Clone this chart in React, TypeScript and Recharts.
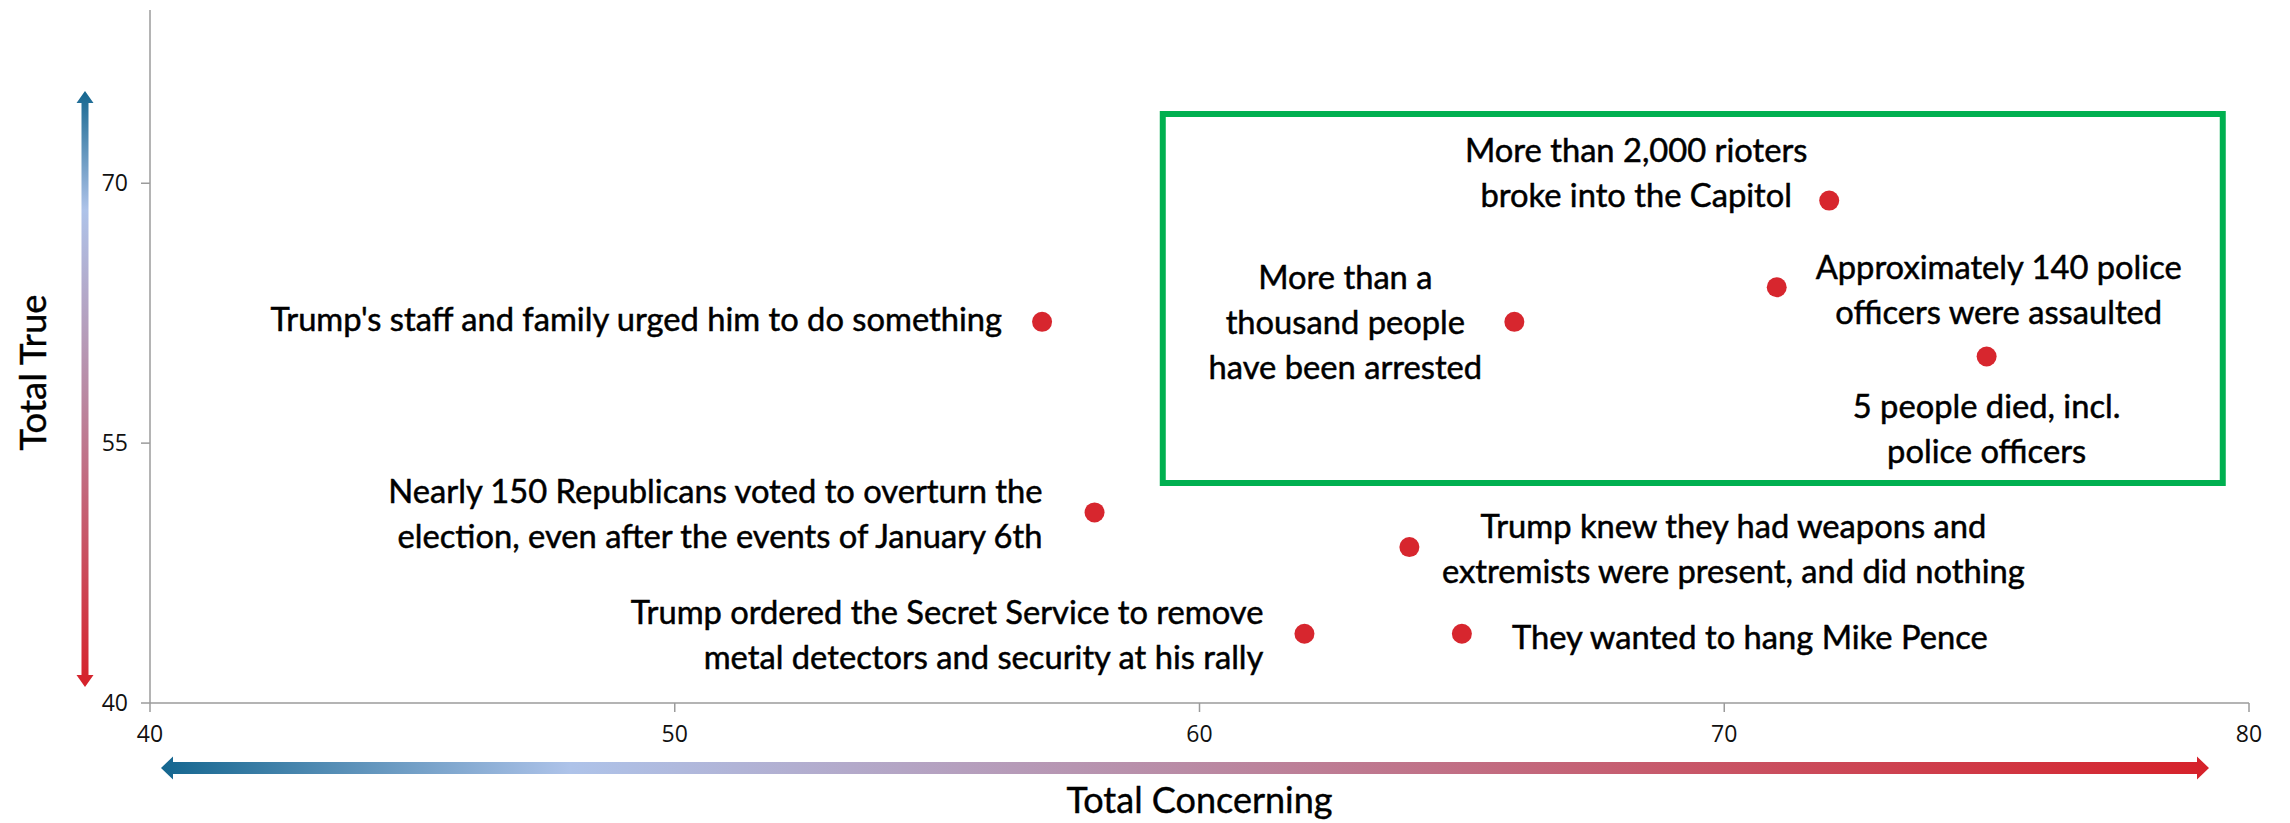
import React from "react";
import { ScatterChart, Scatter, XAxis, YAxis, ReferenceArea } from "recharts";

// ── data ──────────────────────────────────────────────────────────────────────
const statements = [
  "Trump's staff and family urged him to do something",
  "Nearly 150 Republicans voted to overturn the\nelection, even after the events of January 6th",
  "Trump ordered the Secret Service to remove\nmetal detectors and security at his rally",
  "They wanted to hang Mike Pence",
  "Trump knew they had weapons and\nextremists were present, and did nothing",
  "More than a\nthousand people\nhave been arrested",
  "More than 2,000 rioters\nbroke into the Capitol",
  "Approximately 140 police\nofficers were assaulted",
  "5 people died, incl.\npolice officers",
];
const totalConcerning = [57, 58, 62, 65, 64, 66, 72, 71, 75];
const totalTrue = [62, 51, 44, 44, 49, 62, 69, 64, 60];

const xTicks = [40, 50, 60, 70, 80];
const yTicks = [40, 55, 70];
const highlightX = [59.3, 79.5];
const highlightY = [52.7, 74];

// ── label placement (px from the dot) ─────────────────────────────────────────
const labelLayout: { anchor: "start" | "middle" | "end"; dx: number; dy: number }[] = [
  { anchor: "end", dx: -40, dy: -4 },
  { anchor: "end", dx: -52, dy: 0 },
  { anchor: "end", dx: -41, dy: 0 },
  { anchor: "start", dx: 50, dy: 2 },
  { anchor: "middle", dx: 324, dy: 0 },
  { anchor: "middle", dx: -169, dy: -1 },
  { anchor: "middle", dx: -193, dy: -29 },
  { anchor: "middle", dx: 222, dy: 1 },
  { anchor: "middle", dx: 0, dy: 71 },
];

const data = statements.map((label, i) => ({ x: totalConcerning[i], y: totalTrue[i], label, i }));

const FONT = "Lato, 'Noto Sans', sans-serif";
const TICK_FONT = "'Open Sans', 'Noto Sans', sans-serif";
const AXIS = "#9b9b9b";
const LINE_H = 45;

const DotWithLabel = (props: any) => {
  const { cx, cy, payload } = props;
  const lay = labelLayout[payload.i];
  const lines = String(payload.label).split("\n");
  const y0 = cy + lay.dy - ((lines.length - 1) * LINE_H) / 2;
  return (
    <g>
      <circle cx={cx} cy={cy} r={10} fill="#d7262e" />
      <text x={cx + lay.dx} y={y0} textAnchor={lay.anchor} dominantBaseline="central"
        fontFamily={FONT} fontSize={32.7} fill="#000" stroke="#000" strokeWidth={0.5}>
        {lines.map((l, k) => (
          <tspan key={k} x={cx + lay.dx} y={y0 + k * LINE_H}>{l}</tspan>
        ))}
      </text>
    </g>
  );
};

const YTitle = (props: any) => {
  const vb = props.viewBox;
  const x = vb.x + 32;
  const y = vb.y + vb.height / 2 + 16;
  return (
    <text x={x} y={y} transform={`rotate(-90 ${x} ${y})`} textAnchor="middle" dominantBaseline="central"
      fontFamily={FONT} fontSize={36.5} fill="#000" stroke="#000" strokeWidth={0.4}>Total True</text>
  );
};

// gradient arrows (decoration)
const Arrows = () => (
  <svg width={2290} height={823} style={{ position: "absolute", left: 0, top: 0, pointerEvents: "none" }}>
    <defs>
      <linearGradient id="gh" x1="0" y1="0" x2="1" y2="0">
        <stop offset="0" stopColor="#14668f" />
        <stop offset="0.2" stopColor="#aec3e9" />
        <stop offset="0.5" stopColor="#b98ba5" />
        <stop offset="1" stopColor="#d6212a" />
      </linearGradient>
      <linearGradient id="gv" x1="0" y1="0" x2="0" y2="1">
        <stop offset="0" stopColor="#14668f" />
        <stop offset="0.2" stopColor="#aec3e9" />
        <stop offset="0.5" stopColor="#b98ba5" />
        <stop offset="1" stopColor="#d6212a" />
      </linearGradient>
    </defs>
    <polygon fill="url(#gv)"
      points="85,91 93.5,103 88.5,103 88.5,675 93.5,675 85,687 76.5,675 81.5,675 81.5,103 76.5,103" />
    <polygon fill="url(#gh)"
      points="161,768 173,756.5 173,762 2197,762 2197,756.5 2209,768 2197,779.5 2197,774 173,774 173,779.5" />
  </svg>
);

export default function App() {
  return (
    <div style={{ position: "absolute", left: 0, top: 0, width: 2290, height: 823, background: "#fff" }}>
      <ScatterChart width={2290} height={823} margin={{ top: 10, right: 41, bottom: 10, left: 0 }}>
        <XAxis type="number" dataKey="x" domain={[40, 80]} ticks={xTicks} height={110}
          stroke={AXIS} strokeWidth={1.5} tickSize={9} tickMargin={14}
          tick={{ fontSize: 23, fontFamily: TICK_FONT, fill: "#111" }}
          label={{ value: "Total Concerning", position: "insideBottom", offset: 0, fontSize: 36, fontFamily: FONT, fill: "#000", stroke: "#000", strokeWidth: 0.4 }} />
        <YAxis type="number" dataKey="y" domain={[40, 80]} ticks={yTicks} width={150}
          stroke={AXIS} strokeWidth={1.5} tickSize={9} tickMargin={13}
          tick={{ fontSize: 23, fontFamily: TICK_FONT, fill: "#111" }}
          label={<YTitle />} />
        <ReferenceArea x1={highlightX[0]} x2={highlightX[1]} y1={highlightY[0]} y2={highlightY[1]}
          fill="none" stroke="#00b050" strokeWidth={6} fillOpacity={0} />
        <Scatter data={data} shape={DotWithLabel} isAnimationActive={false} />
      </ScatterChart>
      <Arrows />
    </div>
  );
}
